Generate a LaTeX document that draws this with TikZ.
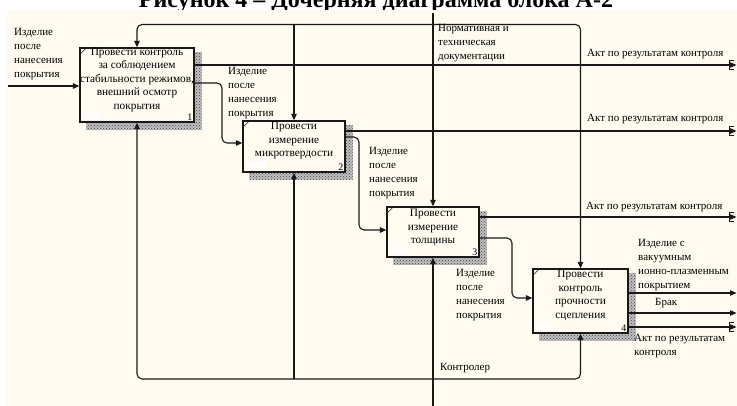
\documentclass[tikz,border=0pt]{standalone}
\usepackage{fontspec}
\setmainfont{Liberation Serif}
\usetikzlibrary{arrows.meta,patterns,backgrounds}
\definecolor{paper}{RGB}{255,251,240}
\definecolor{ink}{RGB}{25,25,25}
\begin{document}
\begin{tikzpicture}[x=1pt,y=-1pt,
  flow/.style={draw=ink, line width=1.1pt, -{Triangle[length=6.5pt,width=5.5pt]}},
  box/.style={draw=ink, line width=1.3pt, fill=paper, inner sep=0pt},
  boxtext/.style={font=\fontsize{11.3}{13.5}\selectfont, align=center, inner sep=0pt},
  lbl/.style={font=\fontsize{11}{14}\selectfont, align=left, inner sep=0pt, anchor=north west},
  onelbl/.style={font=\fontsize{11}{14}\selectfont, inner sep=0pt, anchor=west},
  num/.style={font=\fontsize{10}{10}\selectfont, inner sep=2pt, anchor=south east},
  shadowbase/.style={fill=black!25},
  shadow/.style={pattern=crosshatch dots, pattern color=black!75},
  tunnel/.pic={\draw[ink, line width=1pt] (4,-4.8) -- (0,-4.8) -- (0,4.8) -- (4,4.8);}
]
\useasboundingbox (0,0) rectangle (737,406);

% activity boxes
\node[box, minimum width=114pt, minimum height=74pt] (b1) at (137,85) {};
\node[box, minimum width=102pt, minimum height=51pt] (b2) at (294,146.5) {};
\node[box, minimum width=92pt,  minimum height=50pt] (b3) at (433,232) {};
\node[box, minimum width=95pt,  minimum height=64pt] (b4) at (580.5,301) {};

\begin{scope}[on background layer]
  \fill[white] (0,0) rectangle (737,406);
  \node[font=\fontsize{24}{24}\selectfont\bfseries, anchor=base, inner sep=0pt] (title) at (376,8)
    {Рисунок 4 – Дочерняя диаграмма блока А-2};
  \fill[paper] (7,10) rectangle (737,406);
  % hatched shadows
  \foreach \b in {b1,b2,b3,b4}{
    \fill[shadowbase] ([shift={(7,5)}]\b.north west) rectangle ([shift={(7,7)}]\b.south east);
    \fill[shadow] ([shift={(7,5)}]\b.north west) rectangle ([shift={(7,7)}]\b.south east);
  }
\end{scope}

% corner ticks, blank tags and numbers
\foreach \b/\n in {b1/1,b2/2,b3/3,b4/4}{
  \draw[ink, line width=0.6pt] ([shift={(1.5,6)}]\b.north west) -- ([shift={(6,1.5)}]\b.north west);
  \node[num] at (\b.south east) {\n};
}
\fill[white] (85,113) rectangle (100,119.5);
\fill[white] (247,162) rectangle (255,169);
\fill[white] (256.5,162) rectangle (266,169);
\fill[white] (392,247) rectangle (407,254);
\fill[white] (537,323) rectangle (553,330);

% box captions
\node[boxtext] at ([yshift=5pt]b1.center) {Провести контроль\\за соблюдением\\стабильности режимов,\\внешний осмотр\\покрытия};
\node[boxtext] at ([yshift=5.5pt]b2.center) {Провести\\измерение\\микротвердости};
\node[boxtext] at ([yshift=4.5pt]b3.center) {Провести\\измерение\\толщины};
\node[boxtext] at ([yshift=5.5pt]b4.center) {Провести\\контроль\\прочности\\сцепления};

% control
\coordinate (ctop) at (433,13);
\coordinate (cj) at (433,24.5);
\draw[flow] (ctop) -- (b3.north);
\draw[flow, rounded corners=5pt] (cj) -- (cj -| b1.north) -- (b1.north);
\draw[flow, rounded corners=5pt] (cj) -- (cj -| b4.north) -- (b4.north);
\draw[flow] (cj -| b2.north) -- (b2.north);

% mechanism
\coordinate (mbot) at (433,406);
\coordinate (mj) at (433,379);
\draw[flow] (mbot) -- (b3.south);
\draw[flow, rounded corners=5pt] (mj) -- (mj -| b1.south) -- (b1.south);
\draw[flow, rounded corners=5pt] (mj) -- (mj -| b4.south) -- (b4.south);
\draw[flow] (mj -| b2.south) -- (b2.south);

% input
\coordinate (in1) at (8,86);
\draw[flow] (in1) -- (in1 -| b1.west);

% product flow between activities
\draw[flow, rounded corners=5pt] (b1.east |- 0,83) -- (222,83) -- (222,143) -- (b2.west |- 0,143);
\draw[flow, rounded corners=5pt] (b2.east |- 0,137) -- (359,137) -- (359,230) -- (b3.west |- 0,230);
\draw[flow, rounded corners=5pt] (b3.east |- 0,238) -- (512,238) -- (512,298) -- (b4.west |- 0,298);

% outputs
\coordinate (o1) at (736.5,65);
\coordinate (o2) at (736.5,131);
\coordinate (o3) at (736.5,217);
\coordinate (o4) at (736.5,293);
\coordinate (o5) at (736.5,313);
\coordinate (o6) at (736.5,327);
\draw[flow] (b1.east |- o1) -- (o1);
\draw[flow] (b2.east |- o2) -- (o2);
\draw[flow] (b3.east |- o3) -- (o3);
\draw[flow] (b4.east |- o4) -- (o4);
\draw[flow] (b4.east |- o5) -- (o5);
\draw[flow] (b4.east |- o6) -- (o6);
\pic at (729.5,65) {tunnel};
\pic at (729.5,131) {tunnel};
\pic at (729.5,217) {tunnel};
\pic at (729.5,327) {tunnel};

% arrow labels
\node[lbl] (t-in) at (14,28) {Изделие\\после\\нанесения\\покрытия};
\node[lbl] (t-12) at (228,67) {Изделие\\после\\нанесения\\покрытия};
\node[lbl] (t-23) at (369,147) {Изделие\\после\\нанесения\\покрытия};
\node[lbl] (t-34) at (456,269) {Изделие\\после\\нанесения\\покрытия};
\node[lbl] (t-ctl) at (438,24.5) {Нормативная и\\техническая\\документации};
\node[onelbl] (t-o1) at (587,54) {Акт по результатам контроля};
\node[onelbl] (t-o2) at (587,119) {Акт по результатам контроля};
\node[onelbl] (t-o3) at (586,207.3) {Акт по результатам контроля};
\node[lbl] (t-o4) at (638,239) {Изделие с\\вакуумным\\ионно-плазменным\\покрытием};
\node[onelbl] (t-o5) at (655,302.7) {Брак};
\node[lbl, font=\fontsize{11}{13.4}\selectfont] (t-o6) at (634,334.5) {Акт по результатам\\контроля};
\node[onelbl] (t-mech) at (440,367.7) {Контролер};
\end{tikzpicture}
\end{document}
